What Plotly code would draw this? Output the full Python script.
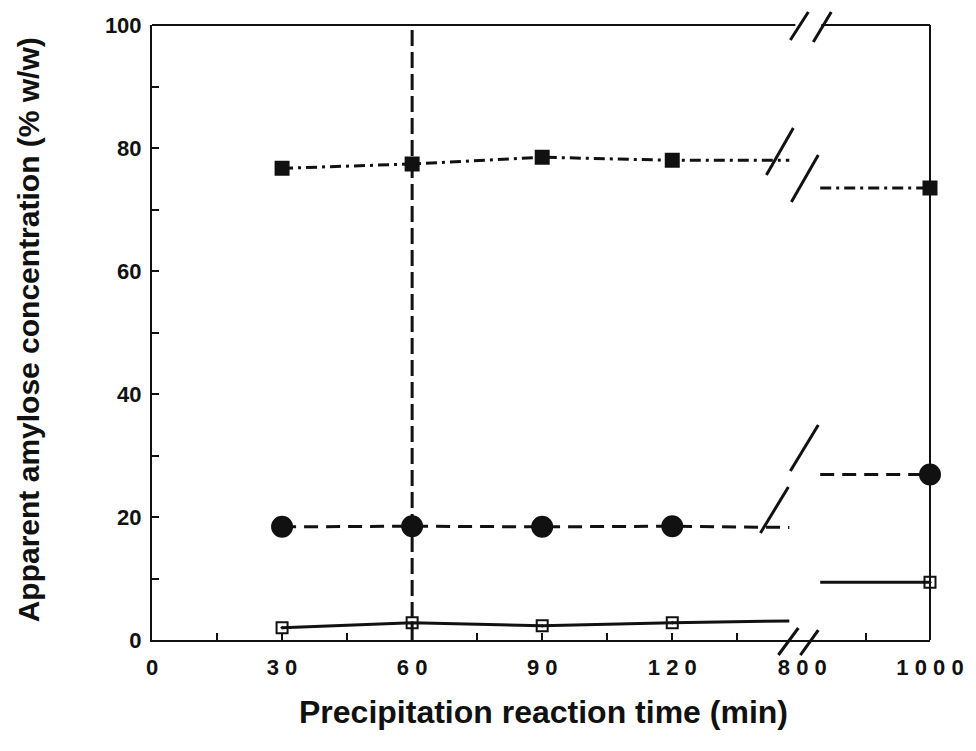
import plotly.graph_objects as go

# ---------------- data ----------------
early_times = [30, 60, 90, 120]
late_times = [1000]
break_left_t = 147     # where the early-segment lines end (just before the axis break)
break_right_t = 828    # where the late-segment lines start (just after the axis break)

sq_filled_early = [76.7, 77.4, 78.5, 78.0]
sq_filled_break_left = 78.0
sq_filled_break_right = 73.5
sq_filled_late = [73.5]

circle_early = [18.4, 18.5, 18.4, 18.5]
circle_break_left = 18.3
circle_break_right = 26.9
circle_late = [26.9]

sq_open_early = [2.0, 2.8, 2.3, 2.8]
sq_open_break_left = 3.1
sq_open_break_right = 9.4
sq_open_late = [9.4]

marker_time = 60  # vertical dashed reference line

x1_tickvals = [0, 15, 30, 45, 60, 75, 90, 105, 120, 135]
x1_ticktext = ["0", "", "3 0", "", "6 0", "", "9 0", "", "1 2 0", ""]
x2_tickvals = [800, 900, 1000]
x2_ticktext = ["8 0 0", "", "1 0 0 0"]
y_tickvals = [0, 10, 20, 30, 40, 50, 60, 70, 80, 90, 100]
y_ticktext = ["0", "", "20", "", "40", "", "60", "", "80", "", "100"]

# ---------------- layout constants (page pixels) ----------------
W, H = 976, 751
PL, PR, PT, PB = 152, 932, 25, 640   # plot area in page pixels
PW = PR - PL
PH = PB - PT
D1 = (804 - PL) / PW  # split of the broken x-axis

FONT = "Liberation Sans, Arial, sans-serif"
BLACK = "#111111"

def px(X):
    return (X - PL) / PW

def py(Y):
    return (PB - Y) / PH

fig = go.Figure()

def add_series(early, left, right, late, dash, sym, size, line_w):
    mk = dict(symbol=sym, size=size, color=BLACK, line=dict(color=BLACK, width=2))
    fig.add_trace(go.Scatter(x=early_times + [break_left_t], y=early + [left],
                             mode="lines", line=dict(color=BLACK, width=line_w, dash=dash),
                             xaxis="x", yaxis="y", showlegend=False, hoverinfo="skip"))
    fig.add_trace(go.Scatter(x=early_times, y=early, mode="markers", marker=mk,
                             xaxis="x", yaxis="y", showlegend=False))
    fig.add_trace(go.Scatter(x=[break_right_t] + late_times, y=[right] + late,
                             mode="lines", line=dict(color=BLACK, width=line_w, dash=dash),
                             xaxis="x2", yaxis="y", showlegend=False, hoverinfo="skip"))
    fig.add_trace(go.Scatter(x=late_times, y=late, mode="markers", marker=mk,
                             xaxis="x2", yaxis="y", showlegend=False, cliponaxis=False))

add_series(sq_filled_early, sq_filled_break_left, sq_filled_break_right, sq_filled_late,
           "11px,5px,3px,5px", "square", 13, 3)
add_series(circle_early, circle_break_left, circle_break_right, circle_late,
           "14px,8px", "circle", 20, 3)
add_series(sq_open_early, sq_open_break_left, sq_open_break_right, sq_open_late,
           "solid", "square-open-dot", 11, 3)

shapes = []
# vertical dashed line at 60 min
shapes.append(dict(type="line", xref="x", yref="y", x0=marker_time, x1=marker_time, y0=0, y1=100,
                   line=dict(color=BLACK, width=3, dash="16px,6px")))
# top border with gap, right border
shapes.append(dict(type="line", xref="paper", yref="paper", x0=0, x1=px(797), y0=1, y1=1,
                   line=dict(color=BLACK, width=2)))
shapes.append(dict(type="line", xref="paper", yref="paper", x0=px(823), x1=1, y0=1, y1=1,
                   line=dict(color=BLACK, width=2)))
shapes.append(dict(type="line", xref="paper", yref="paper", x0=1, x1=1, y0=0, y1=1,
                   line=dict(color=BLACK, width=2)))
# break slashes (page pixel positions converted to paper)
slashes = [
    ((792, 40), (810, 12)), ((815, 42), (833, 12)),          # top axis
    ((780, 655), (800, 628)), ((802, 655), (820, 630)),      # bottom axis
    ((768, 175), (795, 128)), ((793, 202), (820, 155)),      # filled-square series
    ((762, 533), (790, 487)), ((792, 471), (820, 425)),      # circle series
]
for (a, b) in slashes:
    shapes.append(dict(type="line", xref="paper", yref="paper",
                       x0=px(a[0]), y0=py(a[1]), x1=px(b[0]), y1=py(b[1]),
                       line=dict(color=BLACK, width=3)))

tickfont = dict(family=FONT, size=22, color=BLACK, weight="bold")

fig.update_layout(
    width=W, height=H,
    margin=dict(l=PL, r=W - PR, t=PT, b=H - PB),
    paper_bgcolor="white", plot_bgcolor="white",
    shapes=shapes,
    xaxis=dict(domain=[0, D1], range=[0, 150], anchor="y",
               tickvals=x1_tickvals, ticktext=x1_ticktext, ticks="inside", ticklen=7,
               tickwidth=2, tickcolor=BLACK, showline=True, linecolor=BLACK, linewidth=2,
               showgrid=False, zeroline=False, tickfont=tickfont, ticklabelstandoff=7),
    xaxis2=dict(domain=[D1, 1], range=[800, 1000], anchor="y",
                tickvals=x2_tickvals, ticktext=x2_ticktext, ticks="inside", ticklen=7,
                tickwidth=2, tickcolor=BLACK, showline=True, linecolor=BLACK, linewidth=2,
                showgrid=False, zeroline=False, tickfont=tickfont, ticklabelstandoff=7),
    yaxis=dict(range=[0, 100], tickvals=y_tickvals, ticktext=y_ticktext, ticks="inside",
               ticklen=7, tickwidth=2, tickcolor=BLACK, showline=True, linecolor=BLACK,
               linewidth=2, showgrid=False, zeroline=False, tickfont=tickfont,
               ticklabelstandoff=4),
    annotations=[
        dict(text="Apparent amylose concentration (% w/w)", xref="paper", yref="paper",
             x=px(28), y=py(330), xanchor="center", yanchor="middle",
             textangle=-90, showarrow=False,
             font=dict(family=FONT, size=30, color=BLACK, weight="bold")),
        dict(text="Precipitation reaction time (min)", xref="paper", yref="paper",
             x=px(545), y=py(712), xanchor="center", yanchor="middle", showarrow=False,
             font=dict(family=FONT, size=32, color=BLACK, weight="bold")),
    ],
)

# remove the default page margin so the figure sits at the window's top-left corner
fig.write_html("out.html",
               config={"displayModeBar": False},
               post_script="document.body.style.margin='0';document.body.style.overflow='hidden';")
